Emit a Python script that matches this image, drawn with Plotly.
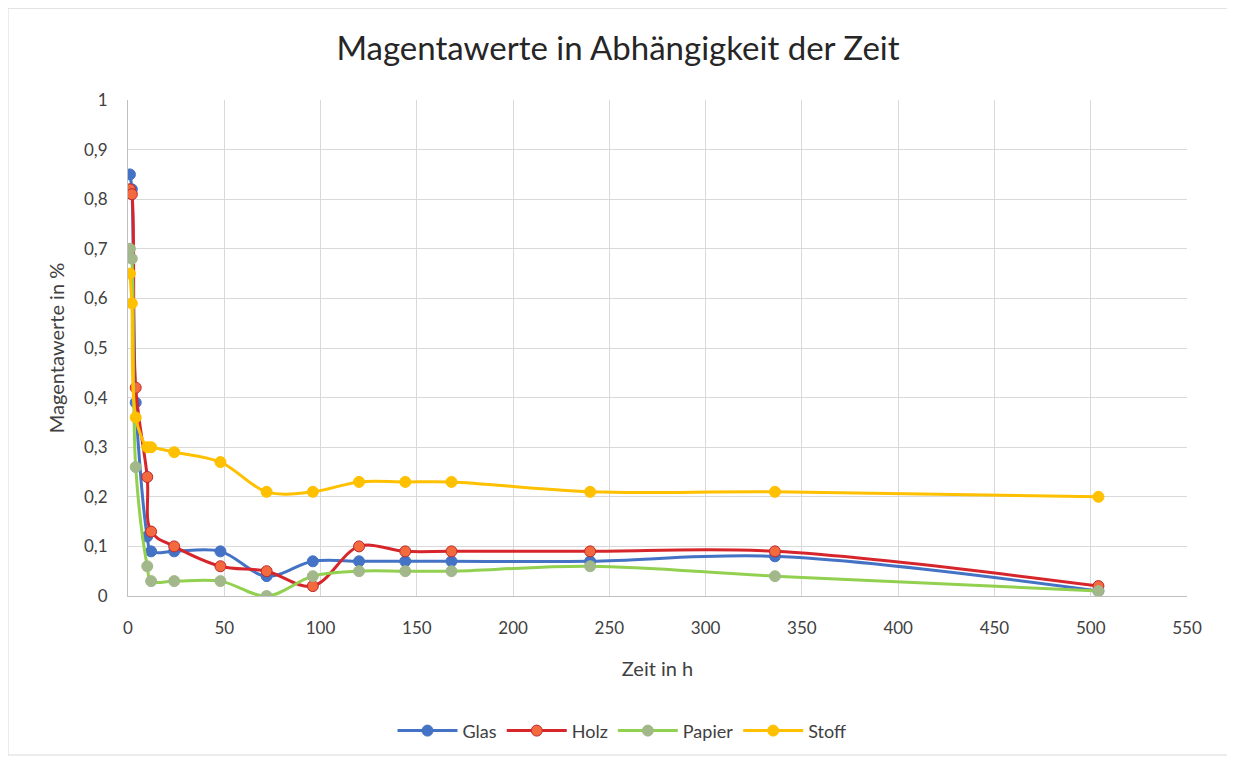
import plotly.graph_objects as go

zeit = [1, 2, 4, 10, 12, 24, 48, 72, 96, 120, 144, 168, 240, 336, 504]

glas = [0.85, 0.82, 0.39, 0.12, 0.09, 0.09, 0.09, 0.04, 0.07, 0.07, 0.07, 0.07, 0.07, 0.08, 0.01]
holz = [0.82, 0.81, 0.42, 0.24, 0.13, 0.10, 0.06, 0.05, 0.02, 0.10, 0.09, 0.09, 0.09, 0.09, 0.02]
papier = [0.70, 0.68, 0.26, 0.06, 0.03, 0.03, 0.03, 0.00, 0.04, 0.05, 0.05, 0.05, 0.06, 0.04, 0.01]
stoff = [0.65, 0.59, 0.36, 0.30, 0.30, 0.29, 0.27, 0.21, 0.21, 0.23, 0.23, 0.23, 0.21, 0.21, 0.20]

serien = [
    ("Glas", glas, "#4472C4", "#4472C4", "#4472C4"),
    ("Holz", holz, "#D7262B", "#F26A3D", "#C0282B"),
    ("Papier", papier, "#92D050", "#A3B88A", "#A3B88A"),
    ("Stoff", stoff, "#FFC000", "#FFC000", "#FFC000"),
]

fig = go.Figure()
for name, werte, linie, marker, rand in serien:
    fig.add_trace(go.Scatter(
        x=zeit,
        y=werte,
        mode="lines+markers",
        name=name,
        line=dict(color=linie, width=3, shape="spline", smoothing=1),
        marker=dict(color=marker, size=11, line=dict(color=rand, width=1)),
    ))

schrift = "Lato, Calibri, sans-serif"

# die Seite hat 8px Rand, daher alles um 8px verschoben
fig.update_layout(
    width=1235,
    height=762,
    paper_bgcolor="white",
    plot_bgcolor="white",
    separators=",.",
    margin=dict(l=120, r=56, t=92, b=174),
    font=dict(family=schrift, size=17, color="#404040"),
    title=dict(
        text="Magentawerte in Abhängigkeit der Zeit",
        x=(618 - 8) / 1235,
        xanchor="center",
        y=1 - 40 / 762,
        yanchor="middle",
        font=dict(family=schrift, size=33, color="#262626"),
    ),
    xaxis=dict(
        range=[0, 550],
        dtick=50,
        tick0=0,
        showgrid=True,
        gridcolor="#D9D9D9",
        gridwidth=1,
        zeroline=False,
        showline=True,
        linecolor="#BFBFBF",
        ticks="",
        ticklabelstandoff=17,
        title=dict(text="Zeit in h", standoff=24),
    ),
    yaxis=dict(
        range=[0, 1],
        dtick=0.1,
        tick0=0,
        showgrid=True,
        gridcolor="#D9D9D9",
        gridwidth=1,
        zeroline=False,
        showline=True,
        linecolor="#BFBFBF",
        ticks="",
        ticklabelstandoff=16,
        title=dict(text="Magentawerte in %", standoff=14),
    ),
    legend=dict(
        orientation="h",
        x=(622 - 128) / 1059,
        xanchor="center",
        y=-0.272,
        yanchor="middle",
        font=dict(size=18),
        itemwidth=60,
        tracegroupgap=0,
    ),
    showlegend=True,
)

# Rahmen um das Diagramm wie im Excel-Export
fig.add_shape(
    type="rect",
    xref="paper",
    yref="paper",
    x0=-0.1133,
    x1=1.0387,
    y0=-0.3206,
    y1=1.185,
    line=dict(color="#D9D9D9", width=1),
    layer="below",
)

fig.write_html("out.html")
